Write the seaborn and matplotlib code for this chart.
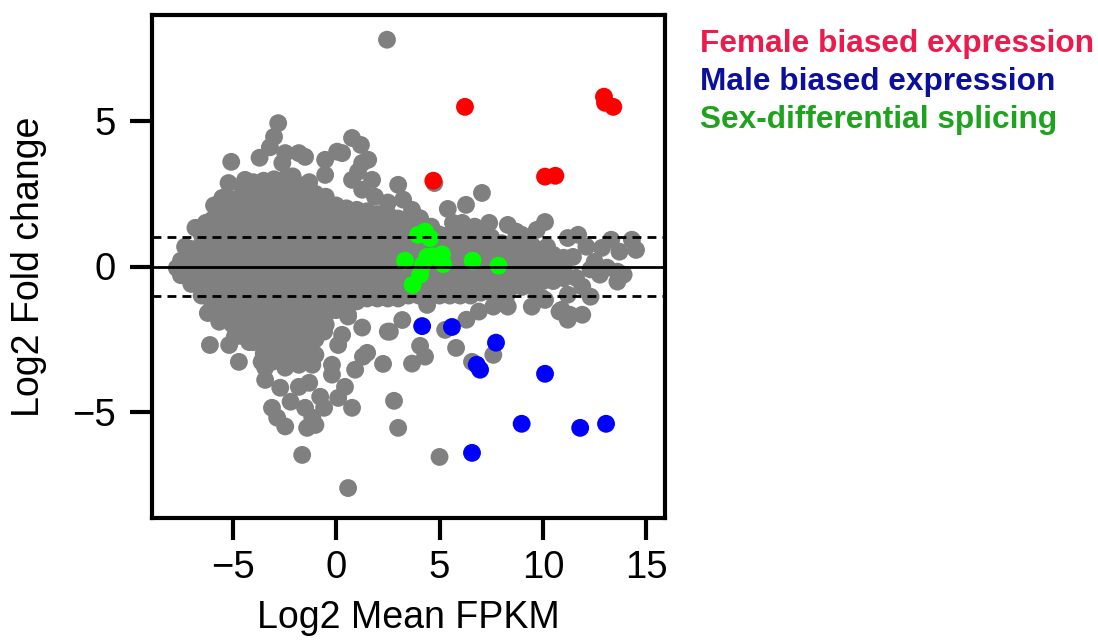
import numpy as np
import pandas as pd
import matplotlib
matplotlib.use("Agg")
import matplotlib.pyplot as plt
import seaborn as sns

# dense core of the MA cloud, one column of y values per x value
core_x = [-7.5, -7.0, -6.5, -6.0, -5.5, -5.0, -4.5, -4.0, -3.5, -3.0, -2.5, -2.0, -1.5, -1.0,
          -0.5, 0.0, 0.5, 1.0, 1.5, 2.0, 2.5, 3.0, 3.5, 4.0, 4.5, 5.0, 5.5, 6.0, 6.5, 7.0,
          7.5, 8.0, 8.5, 9.0, 9.5, 10.0, 10.5, 11.0]
core_y = [
    [-0.3, 0.0, 0.2],
    [-0.6, -0.25, 0.1, 0.45, 0.6],
    [-1.0, -0.65, -0.3, 0.05, 0.4, 0.75, 1.1],
    [-1.4, -1.05, -0.7, -0.35, 0.0, 0.35, 0.7, 1.05, 1.4, 1.6],
    [-1.7, -1.35, -1.0, -0.65, -0.3, 0.05, 0.4, 0.75, 1.1, 1.45, 1.8, 2.0],
    [-2.0, -1.65, -1.3, -0.95, -0.6, -0.25, 0.1, 0.45, 0.8, 1.15, 1.5, 1.85, 2.2, 2.3],
    [-2.4, -2.05, -1.7, -1.35, -1.0, -0.65, -0.3, 0.05, 0.4, 0.75, 1.1, 1.45, 1.8, 2.15, 2.5, 2.6],
    [-2.6, -2.25, -1.9, -1.55, -1.2, -0.85, -0.5, -0.15, 0.2, 0.55, 0.9, 1.25, 1.6, 1.95, 2.3, 2.65, 2.9],
    [-3.0, -2.65, -2.3, -1.95, -1.6, -1.25, -0.9, -0.55, -0.2, 0.15, 0.5, 0.85, 1.2, 1.55, 1.9, 2.25, 2.6, 2.95],
    [-3.2, -2.85, -2.5, -2.15, -1.8, -1.45, -1.1, -0.75, -0.4, -0.05, 0.3, 0.65, 1.0, 1.35, 1.7, 2.05, 2.4, 2.75, 3.0],
    [-3.1, -2.75, -2.4, -2.05, -1.7, -1.35, -1.0, -0.65, -0.3, 0.05, 0.4, 0.75, 1.1, 1.45, 1.8, 2.15, 2.5, 2.85, 3.0],
    [-3.1, -2.8, -2.45, -2.1, -1.75, -1.4, -1.05, -0.7, -0.35, 0.0, 0.35, 0.7, 1.05, 1.4, 1.75, 2.1, 2.45, 2.8, 2.9],
    [-3.0, -2.65, -2.3, -1.95, -1.6, -1.25, -0.9, -0.55, -0.2, 0.15, 0.5, 0.85, 1.2, 1.55, 1.9, 2.25, 2.6],
    [-2.5, -2.15, -1.8, -1.45, -1.1, -0.75, -0.4, -0.05, 0.3, 0.65, 1.0, 1.35, 1.7, 2.05, 2.4, 2.5],
    [-2.0, -1.65, -1.3, -0.95, -0.6, -0.25, 0.1, 0.45, 0.8, 1.15, 1.5, 1.85, 2.2, 2.4],
    [-1.5, -1.15, -0.8, -0.45, -0.1, 0.25, 0.6, 0.95, 1.3, 1.65, 2.0, 2.1],
    [-1.3, -0.95, -0.6, -0.25, 0.1, 0.45, 0.8, 1.15, 1.5, 1.85, 2.0],
    [-1.2, -0.85, -0.5, -0.15, 0.2, 0.55, 0.9, 1.25, 1.6, 1.95],
    [-1.1, -0.75, -0.4, -0.05, 0.3, 0.65, 1.0, 1.35, 1.7, 1.9],
    [-1.1, -0.8, -0.45, -0.1, 0.25, 0.6, 0.95, 1.3, 1.65, 1.8],
    [-1.1, -0.75, -0.4, -0.05, 0.3, 0.65, 1.0, 1.35, 1.7, 1.8],
    [-1.1, -0.8, -0.45, -0.1, 0.25, 0.6, 0.95, 1.3, 1.65],
    [-1.0, -0.65, -0.3, 0.05, 0.4, 0.75, 1.1, 1.45, 1.6],
    [-1.0, -0.8, -0.45, -0.1, 0.25, 0.6, 0.95, 1.3],
    [-1.0, -0.65, -0.3, 0.05, 0.4, 0.75, 1.1, 1.2],
    [-1.0, -0.8, -0.45, -0.1, 0.25, 0.6, 0.95, 1.1],
    [-1.0, -0.65, -0.3, 0.05, 0.4, 0.75, 1.1],
    [-1.0, -0.8, -0.45, -0.1, 0.25, 0.6, 0.95, 1.1],
    [-1.0, -0.65, -0.3, 0.05, 0.4, 0.75, 1.0],
    [-0.9, -0.6, -0.25, 0.1, 0.45, 0.8, 1.0],
    [-0.9, -0.55, -0.2, 0.15, 0.5, 0.85, 1.0],
    [-0.7, -0.4, -0.05, 0.3, 0.65, 0.8],
    [-0.7, -0.35, 0.0, 0.35, 0.7, 0.8],
    [-0.7, -0.4, -0.05, 0.3, 0.65, 0.8],
    [-0.7, -0.35, 0.0, 0.35, 0.7],
    [-0.5, -0.2, 0.15, 0.5],
    [-0.5, -0.15, 0.2, 0.4],
    [-0.4, -0.05, 0.3],
]

# scattered genes around the edge of the cloud
edge_x = [-7.7, -7.3, -6.8, -6.3, -5.9, -5.5, -5.2, -5.07, -4.4, -3.7, -3.2, -3.0, -2.8, -2.46,
          -1.8, -1.5, -2.6, -2.1, -1.3, -0.53, -0.53, 0.05, 0.77, 1.2, 0.29, 1.55, 1.26, 1.06,
          0.77, 1.74, 1.26, 3.0, 1.88, 2.5, 3.24, 3.67, 4.06, 4.6, 5.4, 6.28, 7.05, 5.65, 6.1,
          6.7, 7.4, 8.3, 8.7, 2.46, 4.75, 8.97, 9.7, 10.1, 10.2, 11.2, 11.7, 12.1, 12.85, 13.3,
          13.7, 14.3, 14.5, 11.45, 12.5, 12.3, 12.75, 13.1, 13.6, 13.9, 13.6, 11.6, 11.9, 12.3,
          11.2, 10.9, 11.3, 11.9, 9.95, 9.46, 8.3, 8.2, 10.8, 11.2, 10.1, 7.6, 6.9, 6.3, 5.27,
          5.8, 4.06, 4.3, 3.67, 6.57, 7.6, 3.0, 2.8, 5.0, 0.58, 1.26, 2.5, 0.29, 0.1, 1.5, 0.92,
          2.27, 0.43, 0.1, 0.77, 0.58, 4.4, 3.2, 1.3, 2.6, -7.35, -6.3, -6.2, -6.1, -5.65, -5.17,
          -4.7, -4.9, -4.2, -3.6, -3.43, -2.7, -3.1, -2.85, -2.46, -2.2, -1.8, -1.3, -1.5, -1.15,
          -1.4, -1.0, -0.58, -0.77, -1.64, -0.2, -0.2, -1.15, -1.8, -2.46, -3.1, -3.43, -1.0,
          -1.8, -0.58, 0.58]
edge_y = [-0.05, 0.68, 1.33, 1.5, 2.1, 2.36, 2.87, 3.6, 2.98, 3.74, 4.1, 4.46, 4.93, 3.9,
          3.9, 3.77, 3.56, 3.1, 2.9, 3.67, 3.15, 3.95, 4.42, 4.18, 3.9, 3.67, 3.56, 3.26,
          2.98, 2.98, 2.64, 2.81, 2.4, 2.2, 2.3, 1.95, 1.66, 1.37, 1.98, 2.12, 2.53, 1.5, 1.5,
          1.37, 1.5, 1.43, 1.2, 7.8, 2.87, 1.09, 1.26, 1.53, 0.68, 0.98, 1.09, 0.68, 0.64, 0.92,
          0.51, 0.92, 0.57, 0.33, 0.16, -0.1, -0.28, -0.04, -0.18, -0.28, -0.52, -0.39, -0.69, -1.04,
          -0.97, -1.49, -1.66, -1.66, -1.08, -1.38, -1.38, -1.08, -1.55, -1.83, -1.15, -1.38, -1.55, -1.83, -2.18,
          -2.8, -2.73, -3.1, -3.34, -3.28, -3.04, -5.55, -4.62, -6.55, -1.72, -2.1, -2.24, -2.35, -2.7, -2.97, -3.55,
          -3.35, -4.14, -4.52, -4.86, -7.62, -1.32, -1.84, -3.1, -2.24, -0.22, -0.69, -1.6, -2.7, -1.9, -2.7,
          -3.28, -2.42, -2.6, -3.28, -3.9, -4.17, -4.86, -5.2, -5.5, -4.65, -4.14, -4.0, -4.86, -5.2,
          -5.55, -5.45, -4.86, -4.48, -6.48, -3.38, -3.72, -3.38, -3.38, -3.48, -3.28, -3.48, -3.04,
          -3.04, -2.24, -1.66]

female_x = [4.7, 6.23, 10.1, 10.6, 12.95, 13.0, 13.4]
female_y = [2.95, 5.49, 3.09, 3.12, 5.84, 5.63, 5.49]

male_x = [4.16, 5.6, 7.73, 6.8, 6.96, 10.1, 8.97, 11.8, 13.05, 6.57]
male_y = [-2.05, -2.08, -2.62, -3.38, -3.55, -3.69, -5.41, -5.55, -5.41, -6.41]

splice_x = [3.96, 4.3, 4.54, 3.33, 3.7, 4.06, 4.2, 4.4, 4.68, 5.12, 5.17, 6.6, 7.85]
splice_y = [1.09, 1.2, 0.98, 0.2, -0.63, -0.28, 0.06, 0.33, 0.35, 0.42, 0.08, 0.2, 0.03]

legend_labels = ["Female biased expression", "Male biased expression", "Sex-differential splicing"]
legend_colors = ["#EC1B4B", "#0B0F9E", "#1FA31F"]

# build one table, gray first so the coloured genes sit on top
gx = [x for x, ys in zip(core_x, core_y) for _ in ys] + edge_x
gy = [y for ys in core_y for y in ys] + edge_y
df = pd.concat([
    pd.DataFrame({"A": gx, "M": gy, "grp": "other"}),
    pd.DataFrame({"A": female_x, "M": female_y, "grp": "female"}),
    pd.DataFrame({"A": male_x, "M": male_y, "grp": "male"}),
    pd.DataFrame({"A": splice_x, "M": splice_y, "grp": "splice"}),
], ignore_index=True)

sns.set_style("white")
plt.rcParams["font.family"] = ["Liberation Sans", "DejaVu Sans"]
plt.rcParams.update({"text.color": "black", "axes.labelcolor": "black",
                     "xtick.color": "black", "ytick.color": "black"})

fig = plt.figure(figsize=(10.98, 6.4), dpi=100)
ax = fig.add_axes([152 / 1098, 1 - 518 / 640, 513 / 1098, 503 / 640])

sns.scatterplot(data=df, x="A", y="M", hue="grp",
                palette={"other": "#808080", "female": "#FF0000", "male": "#0000FF", "splice": "#00FF00"},
                s=165, linewidth=0, legend=False, ax=ax, zorder=2)

ax.axhline(0, color="black", lw=2.0, zorder=3)
for h in (1, -1):
    ax.axhline(h, color="black", lw=2.0, dashes=(3.2, 2.2), zorder=3)

ax.set_xlim(-8.9, 15.9)
ax.set_ylim(-8.65, 8.65)
ax.set_xticks([-5, 0, 5, 10, 15])
ax.set_yticks([-5, 0, 5])
ax.tick_params(direction="out", length=16, width=3, labelsize=27.5,
               bottom=True, left=True, color="black", labelcolor="black")
ax.tick_params(axis="x", pad=7)
ax.tick_params(axis="y", pad=10)
for sp in ax.spines.values():
    sp.set_linewidth(3)
    sp.set_color("black")

ax.set_xlabel("Log2 Mean FPKM", fontsize=27, labelpad=10)
ax.set_ylabel("Log2 Fold change", fontsize=27, labelpad=18)

for i, (lab, col) in enumerate(zip(legend_labels, legend_colors)):
    fig.text(700 / 1098, 1 - (52 + 38 * i) / 640, lab, color=col, fontsize=22.8,
             fontweight="bold", ha="left", va="baseline")

fig.savefig("out.png", dpi=100)
